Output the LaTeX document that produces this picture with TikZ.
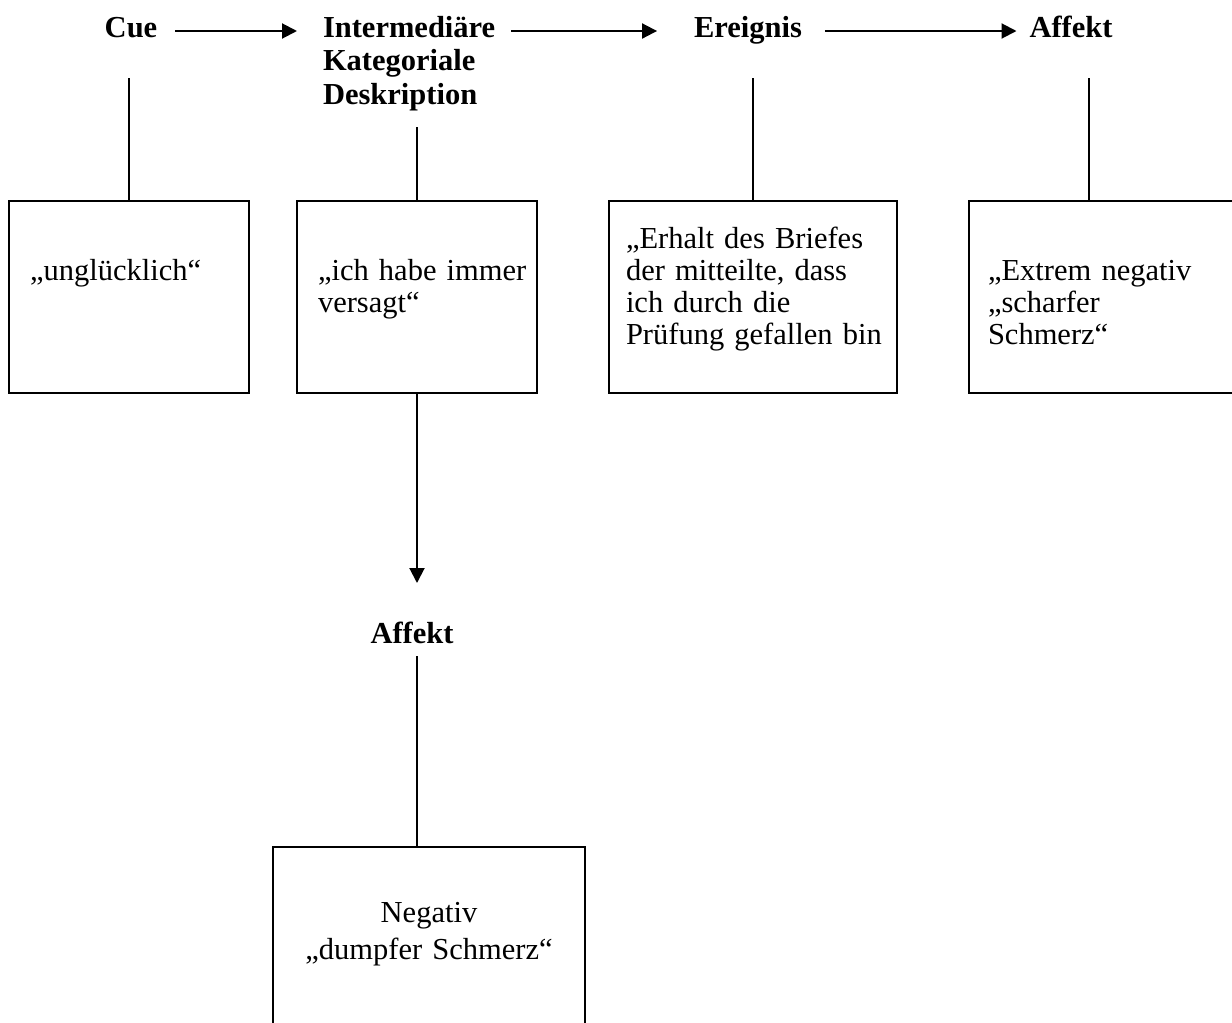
\documentclass[tikz,border=0pt]{standalone}
\usepackage{fontspec}
\setmainfont{Liberation Serif}
\usetikzlibrary{arrows.meta,calc}
\begin{document}
\begin{tikzpicture}[x=1pt,y=-1pt,
  every node/.style={inner sep=0pt, outer sep=0pt, font=\fontsize{30.5}{32}\selectfont},
  head/.style={font=\fontsize{30.5}{34}\selectfont\bfseries, anchor=base},
  headml/.style={font=\fontsize{30.5}{33.5}\selectfont\bfseries, anchor=base west, text width=220pt, align=left},
  txt/.style={anchor=base west, text width=#1, align=left},
  ctxt/.style={anchor=base, text width=#1, align=center, font=\fontsize{30.5}{37}\selectfont},
  boxnode/.style={draw, line width=2pt, rectangle, anchor=north west},
  conn/.style={line width=2pt},
  arr/.style={line width=2pt, -{Triangle[length=15pt,width=15pt]}}]
\useasboundingbox (0,0) rectangle (1232,1023);
\clip (0,0) rectangle (1232,1023);

% header labels
\node[head] (cue) at (131,37) {Cue};
\node[headml] (inter) at (323,37) {Intermediäre\\Kategoriale\\Deskription};
\node[head] (ereig) at (748,37) {Ereignis};
\node[head] (aff1) at (1071,37) {Affekt};
\node[head] (aff2) at (412,643) {Affekt};

% boxes
\node[boxnode, minimum width=240pt, minimum height=192pt] (b1) at (9,201) {};
\node[boxnode, minimum width=240pt, minimum height=192pt] (b2) at (297,201) {};
\node[boxnode, minimum width=288pt, minimum height=192pt] (b3) at (609,201) {};
\node[boxnode, minimum width=300pt, minimum height=192pt] (b4) at (969,201) {};
\node[boxnode, minimum width=312pt, minimum height=260pt] (b5) at (273,847) {};

% box texts
\node[txt=220pt] (t1) at (30,280) {„unglücklich“};
\node[txt=220pt] (t2) at (318,280) {„ich habe immer\\versagt“};
\node[txt=270pt] (t3) at (626,248) {„Erhalt des Briefes\\der mitteilte, dass\\ich durch die\\Prüfung gefallen bin};
\node[txt=240pt] (t4) at (988,280) {„Extrem negativ\\„scharfer\\Schmerz“};
\node[ctxt=300pt] (t5) at (429,922) {Negativ\\„dumpfer Schmerz“};

% stem coordinates
\coordinate (s1) at (129,78);
\coordinate (s2) at (417,127);
\coordinate (s3) at (753,78);
\coordinate (s4) at (1089,78);
\coordinate (tip) at (417,583);
\coordinate (s5) at (417,656);

% horizontal arrows
\draw[arr] ($(cue.base east)+(18,-6)$) -- ($(inter.base west)+(-26,-6)$);
\draw[arr] ($(inter.base west)+(188,-6)$) -- ($(ereig.base west)+(-37,-6)$);
\draw[arr] ($(ereig.base east)+(23,-6)$) -- ($(aff1.base west)+(-13,-6)$);

% vertical connectors
\draw[conn] (s1) -- (s1 |- b1.north);
\draw[conn] (s2) -- (s2 |- b2.north);
\draw[conn] (s3) -- (s3 |- b3.north);
\draw[conn] (s4) -- (s4 |- b4.north);
\draw[arr] (b2.south) -- (tip);
\draw[conn] (s5) -- (s5 |- b5.north);
\end{tikzpicture}
\end{document}
